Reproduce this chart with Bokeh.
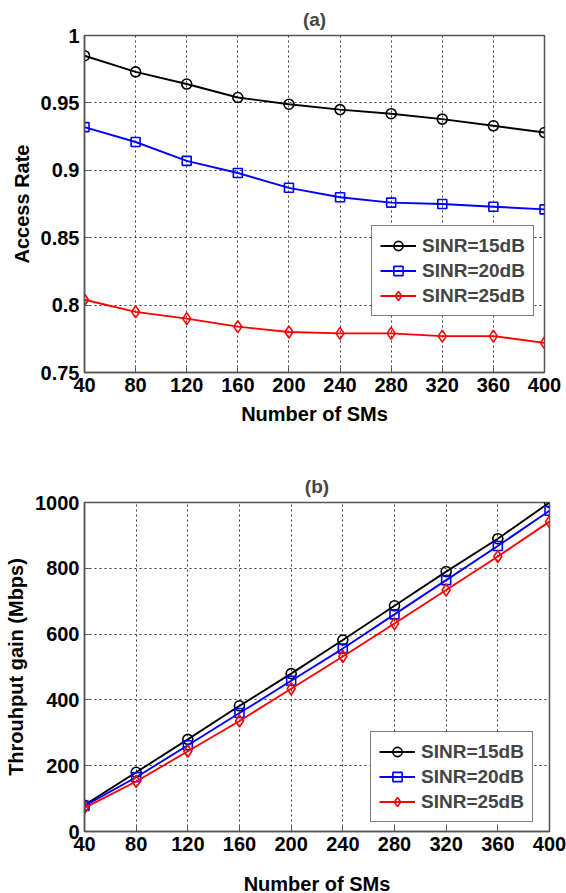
from bokeh.plotting import figure
from bokeh.layouts import column
from bokeh.models import Range1d, FixedTicker
from bokeh.embed import file_html
from bokeh.resources import INLINE

# ---- data ----
num_sms = [40, 80, 120, 160, 200, 240, 280, 320, 360, 400]
series_names = ["SINR=15dB", "SINR=20dB", "SINR=25dB"]

access_15 = [0.985, 0.973, 0.964, 0.954, 0.949, 0.945, 0.942, 0.938, 0.933, 0.928]
access_20 = [0.932, 0.921, 0.907, 0.898, 0.887, 0.880, 0.876, 0.875, 0.873, 0.871]
access_25 = [0.804, 0.795, 0.790, 0.784, 0.780, 0.779, 0.779, 0.777, 0.777, 0.772]

thr_15 = [80, 180, 280, 382, 480, 582, 686, 790, 890, 1000]
thr_20 = [78, 165, 262, 360, 458, 556, 660, 764, 868, 975]
thr_25 = [72, 152, 244, 336, 434, 532, 632, 734, 836, 942]

x_ticks = [40, 80, 120, 160, 200, 240, 280, 320, 360, 400]
y_ticks_a = [0.75, 0.8, 0.85, 0.9, 0.95, 1.0]
y_labels_a = ["0.75", "0.8", "0.85", "0.9", "0.95", "1"]
y_ticks_b = [0, 200, 400, 600, 800, 1000]
y_labels_b = ["0", "200", "400", "600", "800", "1000"]

FONT = "Liberation Sans"
FS = "20px"
LFS = "19px"

colors = ["#000000", "#0000FF", "#FF0000"]
markers = ["circle", "square", "diamond"]
msizes = [10, 9, 12]


def style(p, title, ylabel, yticks, ylabels, xstand):
    p.title.text = title
    p.title.align = "center"
    p.title.text_font = FONT
    p.title.text_font_size = "19px"
    p.title.text_font_style = "bold"
    p.title.standoff = 12
    p.outline_line_color = "#555555"
    p.outline_line_width = 1.5
    p.outline_line_alpha = 1
    for ax in (p.xaxis[0], p.yaxis[0]):
        ax.axis_line_color = "#555555"
        ax.axis_line_width = 1.5
        ax.major_tick_in = 5
        ax.major_tick_out = 0
        ax.minor_tick_in = 0
        ax.minor_tick_out = 0
        ax.major_tick_line_color = "#555555"
        ax.major_label_text_font = FONT
        ax.major_label_text_font_size = FS
        ax.major_label_text_font_style = "bold"
        ax.major_label_text_color = "#000000"
        ax.axis_label_text_font = FONT
        ax.axis_label_text_font_size = FS
        ax.axis_label_text_font_style = "bold"
        ax.axis_label_text_color = "#000000"
        ax.major_label_standoff = 5
        ax.axis_label_standoff = 5
    p.xaxis[0].ticker = FixedTicker(ticks=x_ticks)
    p.xaxis[0].axis_label = "Number of SMs"
    p.xaxis[0].axis_label_standoff = xstand
    p.yaxis[0].ticker = FixedTicker(ticks=yticks)
    p.yaxis[0].major_label_overrides = {t: l for t, l in zip(yticks, ylabels)}
    p.yaxis[0].axis_label = ylabel
    for g in (p.xgrid[0], p.ygrid[0]):
        g.grid_line_color = "#222222"
        g.grid_line_dash = "2 3"
        g.grid_line_width = 1
        g.grid_line_alpha = 0.9


def add_series(p, ys_list):
    for name, ys, c, m, s in zip(series_names, ys_list, colors, markers, msizes):
        p.line(num_sms, ys, line_color=c, line_width=1.9, legend_label=name)
        p.scatter(num_sms, ys, marker=m, size=s, line_color=c, line_width=1.6,
                  fill_color=None, legend_label=name)


def style_legend(p, loc):
    lg = p.legend[0]
    lg.location = loc
    lg.margin = 0
    lg.padding = 8
    lg.spacing = 2
    lg.glyph_width = 36
    lg.glyph_height = 23
    lg.label_height = 23
    lg.label_standoff = 6
    lg.label_text_font = FONT
    lg.label_text_font_size = LFS
    lg.label_text_font_style = "bold"
    lg.border_line_color = "#000000"
    lg.border_line_width = 1.2
    lg.background_fill_color = "white"
    lg.background_fill_alpha = 1


# ---- figure (a) ----
pa = figure(frame_width=460, frame_height=337,
            x_range=Range1d(40, 400), y_range=Range1d(0.75, 1.0),
            output_backend="svg", toolbar_location=None,
            min_border_left=82, min_border_right=24,
            min_border_top=35, min_border_bottom=68)
style(pa, "(a)", "Access Rate", y_ticks_a, y_labels_a, 8)
add_series(pa, [access_15, access_20, access_25])
style_legend(pa, (287, 56))

# ---- figure (b) ----
pb = figure(frame_width=465, frame_height=329,
            x_range=Range1d(40, 400), y_range=Range1d(0, 1000),
            output_backend="svg", toolbar_location=None,
            min_border_left=84, min_border_right=17,
            min_border_top=62, min_border_bottom=62)
style(pb, "(b)", "Throuhput gain (Mbps)", y_ticks_b, y_labels_b, 19)
add_series(pb, [thr_15, thr_20, thr_25])
style_legend(pb, (286, 9))

layout = column(pa, pb, spacing=0)
open("out.html", "w").write(file_html(layout, INLINE))
